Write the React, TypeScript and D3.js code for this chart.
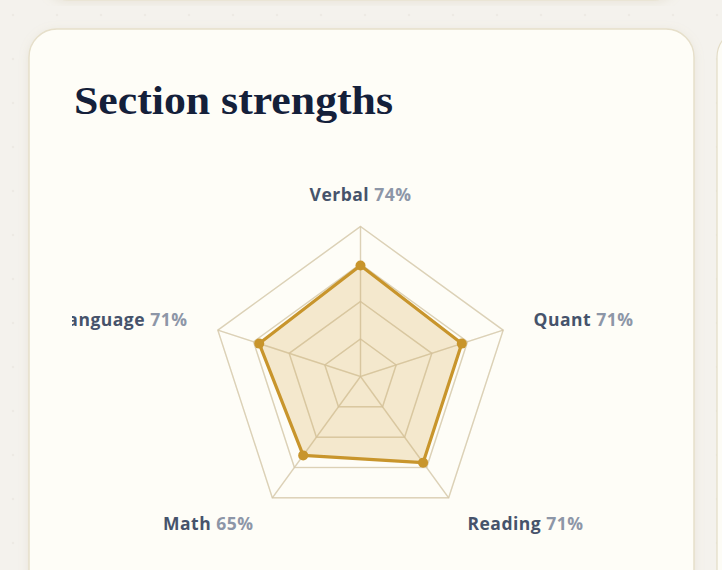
import { lineRadial, curveLinearClosed, scaleLinear, range } from "d3";

const sections = ["Verbal", "Quant", "Reading", "Math", "Language"];
const scores = [74, 71, 71, 65, 71];
const ringLevels = [25, 50, 75, 100];

const W = 722;
const H = 570;
const cx = 360.5;
const cy = 376.5;
const R = 150;
const labelR = 182;

export default function App() {
  const angle = (i: number) => (i * 2 * Math.PI) / sections.length;
  const r = scaleLinear().domain([0, 100]).range([0, R]);

  const ringPath = (lvl: number) =>
    lineRadial<number>()
      .angle((_, i) => angle(i))
      .radius(() => r(lvl))
      .curve(curveLinearClosed)(sections.map(() => lvl)) ?? "";

  const dataPath =
    lineRadial<number>()
      .angle((_, i) => angle(i))
      .radius((d) => r(d))
      .curve(curveLinearClosed)(scores) ?? "";

  const pt = (i: number, rad: number) => [Math.sin(angle(i)) * rad, -Math.cos(angle(i)) * rad];

  const anchorFor = (i: number) => {
    const s = Math.sin(angle(i));
    if (Math.abs(s) < 0.01) return "middle";
    return s > 0 ? "start" : "end";
  };

  return (
    <svg
      width={W}
      height={H}
      viewBox={`0 0 ${W} ${H}`}
      style={{ position: "absolute", left: 0, top: 0, display: "block" }}
    >
      <defs>
        <pattern id="dots" width="44" height="44" patternUnits="userSpaceOnUse">
          <circle cx="13" cy="15" r="1.2" fill="rgba(180,170,150,0.1)" />
        </pattern>
        <filter id="shadow" x="-10%" y="-10%" width="120%" height="120%">
          <feDropShadow dx="0" dy="2" stdDeviation="5" floodColor="#b8a981" floodOpacity="0.18" />
        </filter>
        <clipPath id="chartClip">
          <rect x={72} y={140} width={578} height={430} />
        </clipPath>
      </defs>

      {/* page */}
      <rect width={W} height={H} fill="#f4f2ed" />
      <rect width={W} height={H} fill="url(#dots)" />

      {/* neighbouring cards */}
      <rect x={44} y={-60} width={634} height={60} rx={24} fill="#fdfcf6" stroke="#e6dfca" strokeWidth={1.2} filter="url(#shadow)" />
      <rect x={717} y={29} width={60} height={600} rx={28} fill="#fdfcf6" stroke="#e3dcc6" strokeWidth={1.2} />

      {/* card */}
      <rect x={29} y={29} width={665} height={600} rx={28} fill="#fefdf7" stroke="#e6dfca" strokeWidth={1.5} filter="url(#shadow)" />

      <text
        x={74}
        y={114}
        fontFamily="'Liberation Serif', 'DejaVu Serif', serif"
        fontWeight={700}
        fontSize={41}
        fill="#14203a"
        textLength={319}
        lengthAdjust="spacingAndGlyphs"
      >
        Section strengths
      </text>

      <g clipPath="url(#chartClip)">
        <g transform={`translate(${cx},${cy})`}>
          {ringLevels.map((lvl) => (
            <path key={lvl} d={ringPath(lvl)} fill="none" stroke="#e5dec9" strokeWidth={1.5} />
          ))}
          {range(sections.length).map((i) => {
            const [x, y] = pt(i, R);
            return <line key={i} x1={0} y1={0} x2={x} y2={y} stroke="#e5dec9" strokeWidth={1.5} />;
          })}

          <path d={dataPath} fill="rgba(204,150,40,0.2)" stroke="none" />
          {ringLevels.map((lvl) => (
            <path key={`o${lvl}`} d={ringPath(lvl)} fill="none" stroke="rgba(200,180,140,0.3)" strokeWidth={1.2} />
          ))}
          {range(sections.length).map((i) => {
            const [x, y] = pt(i, R);
            return <line key={`s${i}`} x1={0} y1={0} x2={x} y2={y} stroke="rgba(200,180,140,0.3)" strokeWidth={1.2} />;
          })}
          <path d={dataPath} fill="none" stroke="#c8952c" strokeWidth={3.2} strokeLinejoin="round" />
          {scores.map((s, i) => {
            const [x, y] = pt(i, r(s));
            return <circle key={i} cx={x} cy={y} r={5} fill="#c8952c" />;
          })}

          {sections.map((name, i) => {
            const [x, y] = pt(i, labelR);
            return (
              <text
                key={name}
                x={x}
                y={y}
                dy="0.35em"
                textAnchor={anchorFor(i)}
                fontFamily="'Open Sans', 'DejaVu Sans', sans-serif"
                fontWeight={700}
                fontSize={17.5}
                letterSpacing={0.5}
              >
                <tspan fill="#46536b">{name}</tspan>
                <tspan fill="#8d96a7"> {scores[i]}%</tspan>
              </text>
            );
          })}
        </g>
      </g>
    </svg>
  );
}
